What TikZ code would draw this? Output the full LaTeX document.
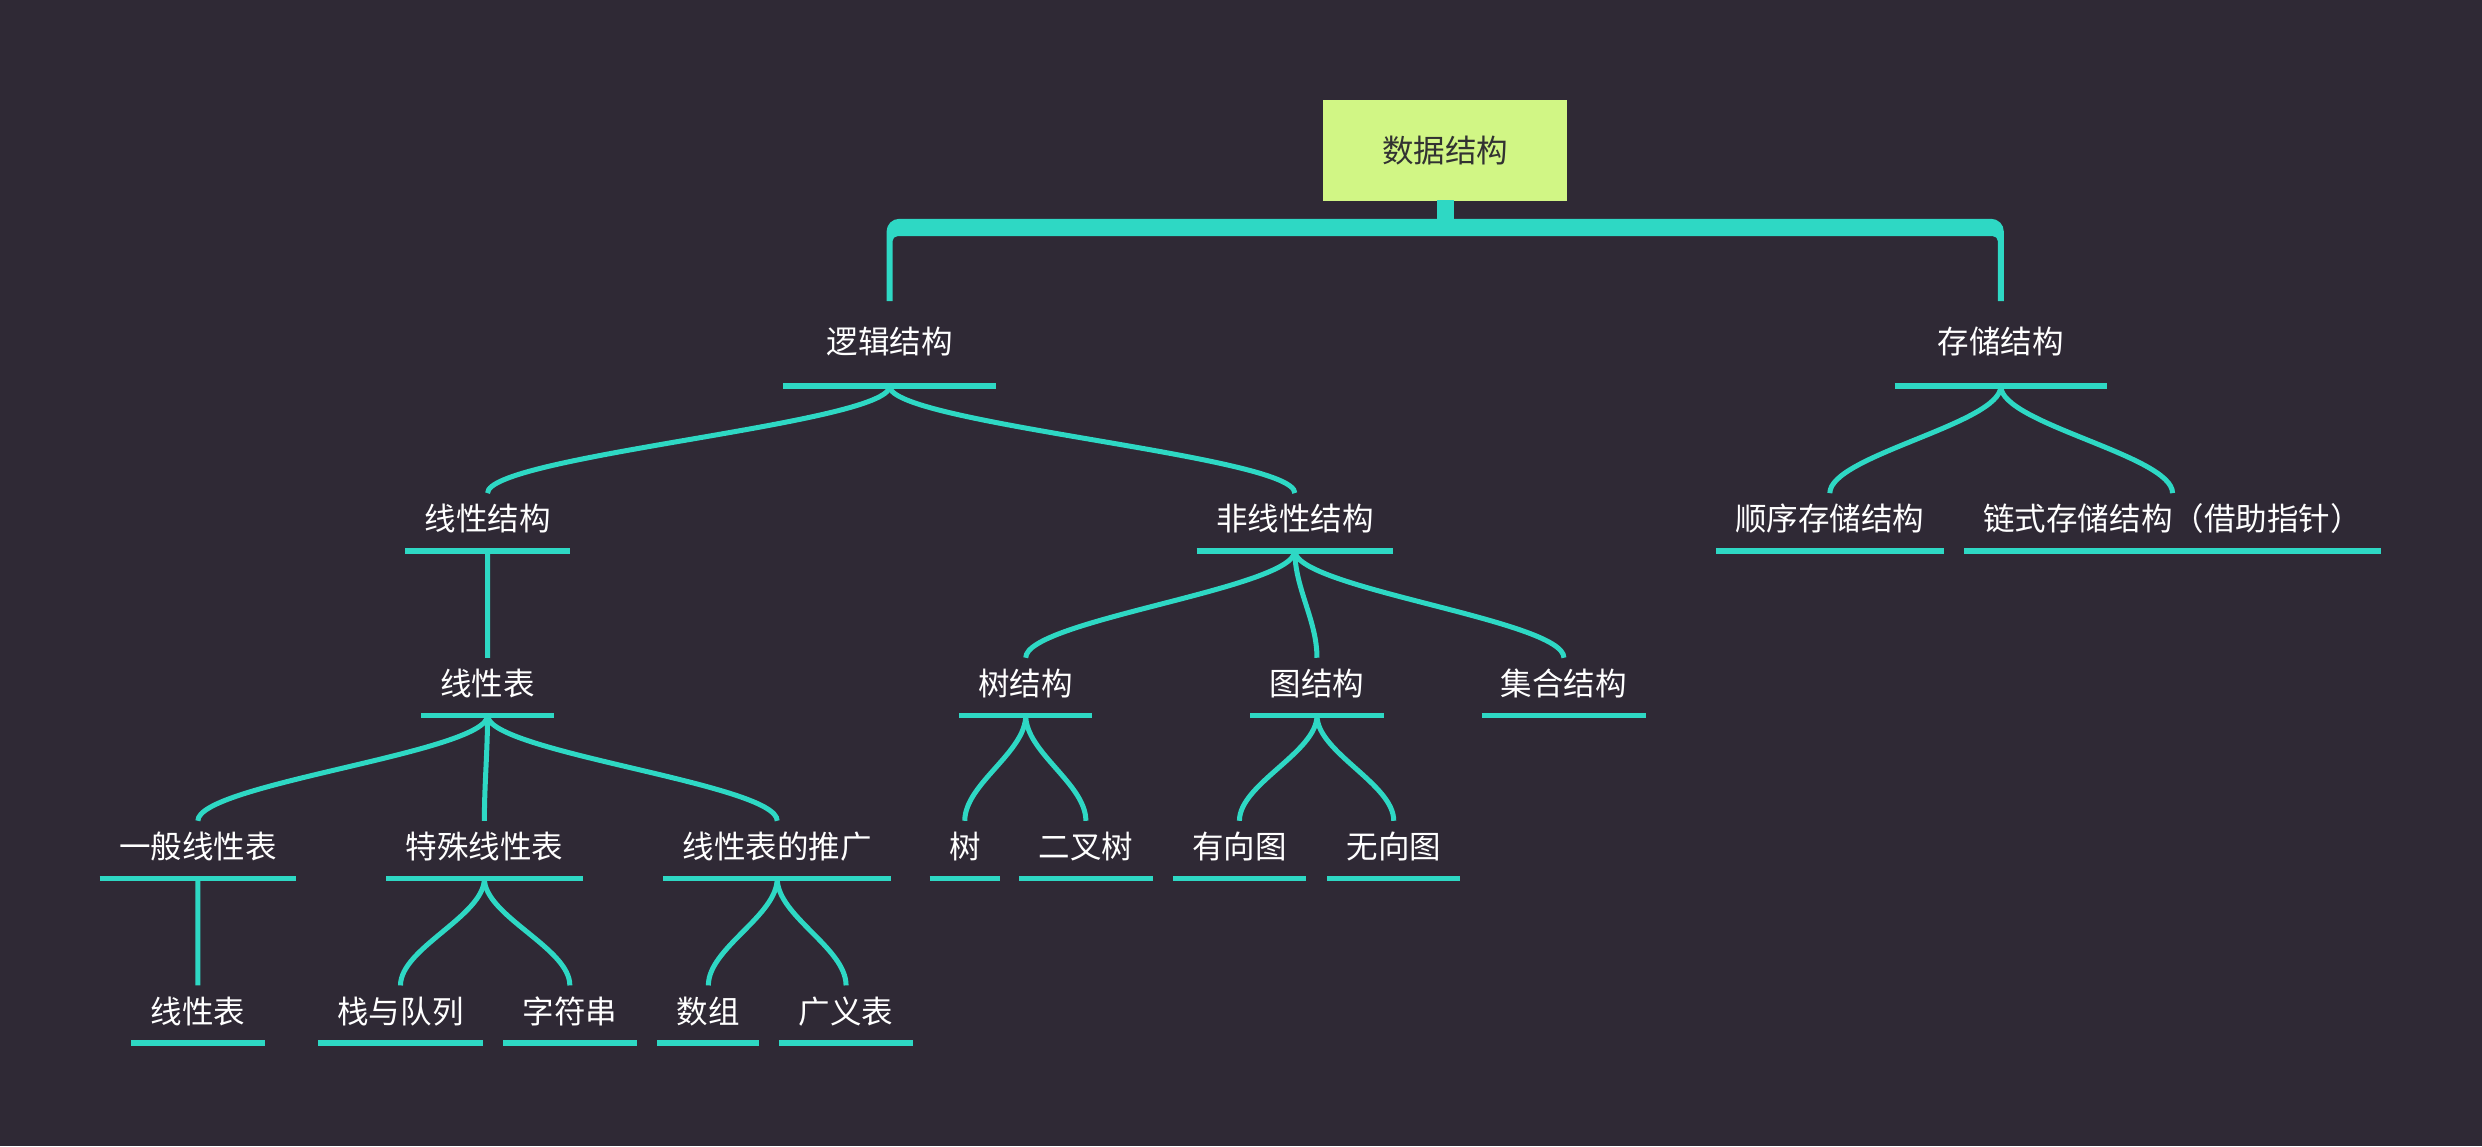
\documentclass[tikz,border=0pt]{standalone}
\usepackage{fontspec}
\setmainfont{Noto Sans CJK SC}
\usetikzlibrary{calc}
\definecolor{bgcol}{RGB}{47,41,53}
\definecolor{linecol}{RGB}{46,216,196}
\definecolor{rootfill}{RGB}{209,246,133}
\definecolor{roottext}{RGB}{50,50,50}
\newcommand\lblfont{\fontsize{17pt}{20pt}\selectfont}
\tikzset{
  uline/.style={draw=linecol,line width=1.1mm},
  topic/.style={anchor=south,text=white,font=\lblfont,inner xsep=3.6mm,inner ysep=0pt,
    text height=7.1mm,text depth=3.7mm,
    append after command={\pgfextra{\draw[uline] (\tikzlastnode.south west) -- (\tikzlastnode.south east);}}},
  main/.style={topic,inner xsep=8.1mm,text height=9.9mm,text depth=6.1mm},
  root/.style={fill=rootfill,text=roottext,font=\lblfont,minimum width=46.2mm,minimum height=19.2mm,inner sep=0pt},
  branch/.style={draw=linecol,line width=0.95mm,
    to path={.. controls ($(\tikztostart)!0.35!(\tikztostart |- \tikztotarget)$) and ($(\tikztotarget)!0.35!(\tikztotarget |- \tikztostart)$) .. (\tikztotarget)}}
}
\begin{document}
\begin{tikzpicture}[x=0.3mm,y=-0.3mm]
\fill[bgcol] (0,0) rectangle (1568,724);
\node[root] (r) at (913,95) {数据结构};
\node[main] (a1) at (562,244) {逻辑结构};
\node[main] (a2) at (1264,244) {存储结构};
\node[topic] (b1) at (308,348) {线性结构};
\node[topic] (b2) at (818,348) {非线性结构};
\node[topic] (b3) at (1156,348) {顺序存储结构};
\node[topic] (b4) at (1372.5,348) {链式存储结构（借助指针）};
\node[topic] (c1) at (308,452) {线性表};
\node[topic] (c2) at (648,452) {树结构};
\node[topic] (c3) at (832,452) {图结构};
\node[topic] (c4) at (988,452) {集合结构};
\node[topic] (d1) at (125,555) {一般线性表};
\node[topic] (d2) at (306,555) {特殊线性表};
\node[topic] (d3) at (491,555) {线性表的推广};
\node[topic] (d4) at (609.5,555) {树};
\node[topic] (d5) at (686,555) {二叉树};
\node[topic] (d6) at (783,555) {有向图};
\node[topic] (d7) at (880.5,555) {无向图};
\node[topic] (e1) at (125,659) {线性表};
\node[topic] (e2) at (253,659) {栈与队列};
\node[topic] (e3) at (360,659) {字符串};
\node[topic] (e4) at (447.5,659) {数组};
\node[topic] (e5) at (534.5,659) {广义表};
% bracket under the root
\fill[linecol] ($(r.south)+(-5.5,-1)$) rectangle ($(r.south)+(5.5,12)$);
\fill[linecol] ($(a1.north)+(-1.9,0)$) [rounded corners=2.4mm]
  -- ($(a1.north |- r.south)+(-1.9,11)$) -- ($(a2.north |- r.south)+(1.9,11)$) [sharp corners]
  -- ($(a2.north)+(1.9,0)$) -- ($(a2.north)+(-1.9,0)$) [rounded corners=0.9mm]
  -- ($(a2.north |- r.south)+(-1.9,22)$) -- ($(a1.north |- r.south)+(1.9,22)$) [sharp corners]
  -- ($(a1.north)+(1.9,0)$) -- cycle;
\draw[branch] (a1.south) to (b1.north);
\draw[branch] (a1.south) to (b2.north);
\draw[branch] (a2.south) to (b3.north);
\draw[branch] (a2.south) to (b4.north);
\draw[branch] (b1.south) to (c1.north);
\draw[branch] (b2.south) to (c2.north);
\draw[branch] (b2.south) to (c3.north);
\draw[branch] (b2.south) to (c4.north);
\draw[branch] (c1.south) to (d1.north);
\draw[branch] (c1.south) to (d2.north);
\draw[branch] (c1.south) to (d3.north);
\draw[branch] (c2.south) to (d4.north);
\draw[branch] (c2.south) to (d5.north);
\draw[branch] (c3.south) to (d6.north);
\draw[branch] (c3.south) to (d7.north);
\draw[branch] (d1.south) to (e1.north);
\draw[branch] (d2.south) to (e2.north);
\draw[branch] (d2.south) to (e3.north);
\draw[branch] (d3.south) to (e4.north);
\draw[branch] (d3.south) to (e5.north);
\end{tikzpicture}
\end{document}
